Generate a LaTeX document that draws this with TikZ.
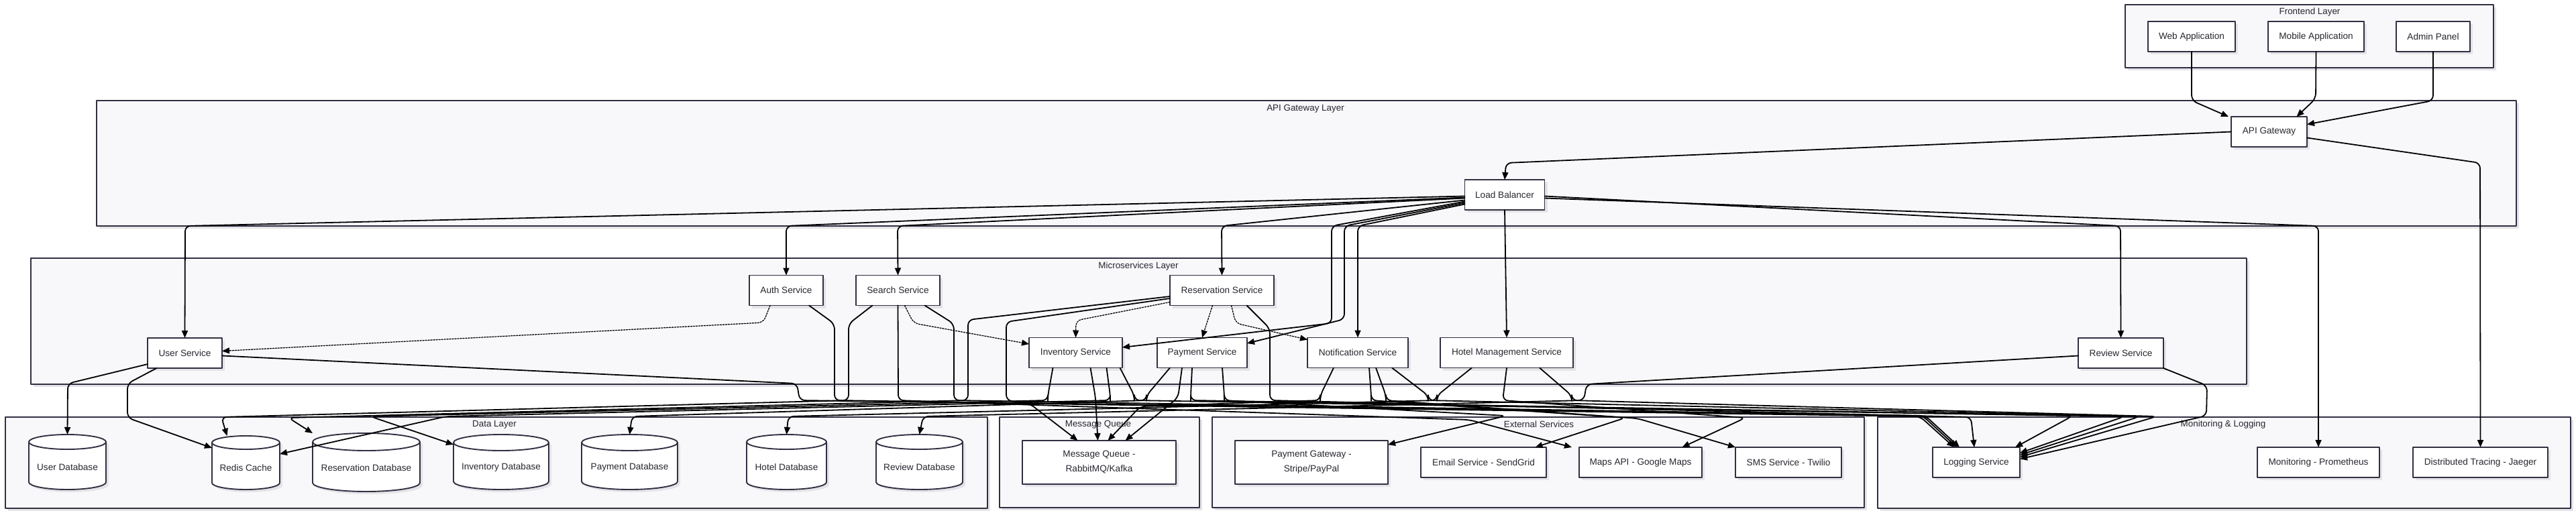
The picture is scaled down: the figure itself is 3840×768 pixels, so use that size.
\documentclass[tikz,border=0pt]{standalone}
\usepackage{fontspec}
\setmainfont{Liberation Sans}
\usetikzlibrary{arrows.meta,shadows}
\definecolor{inkline}{RGB}{48,48,66}
\definecolor{layerbg}{RGB}{248,248,251}
\definecolor{shade}{RGB}{228,228,232}
\definecolor{txt}{RGB}{38,38,46}
% a database drum: name, centre x, centre y (downwards), width, height, cap radius, text
\newcommand{\dbnode}[7]{%
  \path[dbbody] ({#2-#4/2},{-#3+#5/2-#6}) -- ({#2-#4/2},{-#3-#5/2+#6})
    arc[start angle=180,end angle=360,x radius={#4*0.5pt},y radius={#6*1pt}]
    -- ({#2+#4/2},{-#3+#5/2-#6})
    arc[start angle=0,end angle=180,x radius={#4*0.5pt},y radius={#6*1pt}] -- cycle;
  \draw[dbrim] ({#2-#4/2},{-#3+#5/2-#6})
    arc[start angle=180,end angle=360,x radius={#4*0.5pt},y radius={#6*1pt}];
  \node[dbanchor,minimum width=#4pt,minimum height=#5pt] (#1) at (#2,-#3) {};
  \node[dbtext] (#1-text) at (#2,{-#3-8}) {#7};
}
\begin{document}
\begin{tikzpicture}[x=1pt,y=1pt,line cap=round,line join=round]
  \tikzset{
    layer/.style={draw=inkline,fill=layerbg,line width=1.5pt,
      general shadow={fill=shade,shadow xshift=4pt,shadow yshift=-4pt}},
    layertitle/.style={font=\fontsize{13.4}{16}\selectfont,text=txt,inner sep=0pt},
    svc/.style={draw=inkline,fill=white,line width=1.9pt,minimum height=45pt,
      inner sep=0pt,outer sep=0pt,align=center,text=txt,
      font=\fontsize{13.6}{22}\selectfont,
      general shadow={fill=shade,shadow xshift=4pt,shadow yshift=-4pt}},
    dbbody/.style={draw=inkline,fill=white,line width=1.9pt,
      general shadow={fill=shade,shadow xshift=4pt,shadow yshift=-4pt}},
    dbrim/.style={draw=inkline,line width=1.9pt},
    dbanchor/.style={draw=none,inner sep=0pt,outer sep=0pt},
    dbtext/.style={font=\fontsize{13.6}{16}\selectfont,text=txt,inner sep=0pt},
    flow/.style={draw=black,line width=1.8pt,rounded corners=8pt,
      -{Triangle[length=11pt,width=9pt]}},
    dep/.style={flow,line width=1.3pt,dash pattern=on 2.2pt off 1.8pt}
  }
  \fill[white] (0,0) rectangle (3840,-768);
  \useasboundingbox (0,0) rectangle (3840,-768);

  % layers
  \path[layer] (3168,-7) rectangle (3717,-101);
  \path[layer] (144,-150) rectangle (3751,-337);
  \path[layer] (46,-385) rectangle (3349,-573);
  \path[layer] (8,-622) rectangle (1472,-758);
  \path[layer] (1490,-622) rectangle (1788,-757);
  \path[layer] (1807,-622) rectangle (2779,-757);
  \path[layer] (2799,-622) rectangle (3832,-758);
  \node[layertitle] (t-front) at (3443,-18) {Frontend Layer};
  \node[layertitle] (t-gate) at (1946,-162) {API Gateway Layer};
  \node[layertitle] (t-micro) at (1697,-397) {Microservices Layer};
  \node[layertitle] (t-data) at (737,-633) {Data Layer};
  \node[layertitle] (t-queue) at (1637,-633) {Message Queue};
  \node[layertitle] (t-ext) at (2294,-633) {External Services};
  \node[layertitle] (t-mon) at (3314,-633) {Monitoring \& Logging};

  % frontend and gateway
  \node[svc,minimum width=130pt] (web) at (3267,-54.5) {Web Application};
  \node[svc,minimum width=143pt] (mobile) at (3452.5,-54.5) {Mobile Application};
  \node[svc,minimum width=110pt] (admin) at (3627,-54.5) {Admin Panel};
  \node[svc,minimum width=113pt] (gateway) at (3382.5,-196.5) {API Gateway};
  \node[svc,minimum width=119pt] (lb) at (2243,-290.5) {Load Balancer};

  % microservices
  \node[svc,minimum width=110pt] (auth) at (1172,-433) {Auth Service};
  \node[svc,minimum width=125pt] (search) at (1338.5,-433) {Search Service};
  \node[svc,minimum width=155pt] (reservation) at (1821.5,-433) {Reservation Service};
  \node[svc,minimum width=111pt] (user) at (275.5,-526.5) {User Service};
  \node[svc,minimum width=139pt] (inventory) at (1603.5,-526) {Inventory Service};
  \node[svc,minimum width=134pt] (payment) at (1792,-526) {Payment Service};
  \node[svc,minimum width=150pt] (notification) at (2024,-526) {Notification Service};
  \node[svc,minimum width=198pt] (hotel) at (2246,-526) {Hotel Management Service};
  \node[svc,minimum width=127pt] (review) at (3161.5,-526.5) {Review Service};

  % data stores
  \dbnode{userdb}{100.5}{689}{115}{82}{11}{User Database}
  \dbnode{cache}{366.5}{690}{101}{80}{10}{Redis Cache}
  \dbnode{resdb}{546}{689.5}{160}{87}{13}{Reservation Database}
  \dbnode{invdb}{747}{689}{142}{82}{12}{Inventory Database}
  \dbnode{paydb}{938.5}{689}{143}{82}{12}{Payment Database}
  \dbnode{hoteldb}{1172.5}{689}{119}{82}{11}{Hotel Database}
  \dbnode{reviewdb}{1370.5}{689}{129}{82}{11}{Review Database}

  % queue, external services, monitoring
  \node[svc,minimum width=229pt,minimum height=65pt] (mq) at (1638.5,-689.5) {Message Queue -\\RabbitMQ/Kafka};
  \node[svc,minimum width=228pt,minimum height=65pt] (pgw) at (1955,-689.5) {Payment Gateway -\\Stripe/PayPal};
  \node[svc,minimum width=187pt] (email) at (2211.5,-689.5) {Email Service - SendGrid};
  \node[svc,minimum width=183pt] (maps) at (2445.5,-689.5) {Maps API - Google Maps};
  \node[svc,minimum width=158pt] (sms) at (2666,-689.5) {SMS Service - Twilio};
  \node[svc,minimum width=130pt] (logging) at (2946,-689.5) {Logging Service};
  \node[svc,minimum width=182pt] (monitoring) at (3456,-689.5) {Monitoring - Prometheus};
  \node[svc,minimum width=201pt] (tracing) at (3697.5,-689.5) {Distributed Tracing - Jaeger};

  % clients into the gateway
  \draw[flow] (web.south) -- (3267,-150) -- ([xshift=-4pt]gateway.north west);
  \draw[flow] (mobile.south) -- (3452,-147) -- ([xshift=41pt]gateway.north);
  \draw[flow] (admin.south) -- (3627,-150) -- ([yshift=11pt]gateway.east);
  \draw[flow] (gateway.west) -- (2245,-243) -- (lb.north);
  \draw[flow] ([yshift=-9pt]gateway.east) -- (3697,-243) -- (tracing.north);

  % load balancer fan-out
  \draw[flow] ([yshift=-2pt]lb.west) -- (276,-337) -- (user.north);
  \draw[flow] ([yshift=-4pt]lb.west) -- (1172,-337) -- (auth.north);
  \draw[flow] ([yshift=-5pt]lb.west) -- (1338,-337) -- (search.north);
  \draw[flow] ([yshift=-8pt]lb.west) -- (1821,-337) -- (reservation.north);
  \draw[flow] ([yshift=-10pt]lb.west) -- (1985,-337) -- (1985,-482) -- ([yshift=8pt]inventory.east);
  \draw[flow] ([yshift=-12pt]lb.west) -- (2004,-337) -- (2004,-476) -- ([yshift=14pt]payment.east);
  \draw[flow] ([yshift=-14pt]lb.west) -- (2024,-337) -- (notification.north);
  \draw[flow] (lb.south) -- (hotel.north);
  \draw[flow] ([yshift=-2pt]lb.east) -- (3161,-337) -- (review.north);
  \draw[flow] ([yshift=-5pt]lb.east) -- (3456,-337) -- (monitoring.north);

  % service to service calls
  \draw[dep] ([xshift=-24pt]auth.south) -- (1138,-481) -- ([yshift=3pt]user.east);
  \draw[dep] ([xshift=10pt]search.south) -- (1362,-482) -- ([yshift=13pt]inventory.west);
  \draw[dep] ([yshift=5pt]reservation.south west) -- (1604,-478) -- (inventory.north);
  \draw[dep] ([xshift=-14pt]reservation.south) -- (payment.north);
  \draw[dep] ([xshift=14pt]reservation.south) -- (1842,-482) -- ([yshift=-3pt]notification.north west);

  % user, auth, search
  \draw[flow] ([yshift=6pt]user.south west) -- (101,-572) -- (userdb.north);
  \draw[flow] ([xshift=-42pt]user.south) -- (190,-572) -- (190,-623) -- ([yshift=22pt]cache.west);
  \draw[flow] ([yshift=-4pt]user.east) -- (1188,-572) -- (1192,-597) -- (2862,-621) -- ([xshift=-33pt]logging.north);
  \draw[flow] ([xshift=34pt]auth.south) -- (1244,-483) -- (1244,-597) -- (2866,-620) -- ([xshift=-29pt]logging.north);
  \draw[flow] ([xshift=-38pt]search.south) -- (1265,-483) -- (1265,-597) -- (330,-622) -- ([xshift=-28pt]cache.north);
  \draw[flow] (search.south) -- (1339,-597) -- (2190,-626) -- ([xshift=-11pt]maps.north west);
  \draw[flow] ([xshift=40pt]search.south) -- (1422,-483) -- (1422,-597) -- (2870,-620) -- ([xshift=-25pt]logging.north);

  % reservation and inventory
  \draw[flow] ([yshift=-9pt]reservation.west) -- (1443,-477) -- (1443,-597) -- (430,-623) -- (resdb.north west);
  \draw[flow] ([yshift=-12pt]reservation.west) -- (1500,-480) -- (1500,-597) -- (1535,-602) -- ([xshift=-32pt]mq.north);
  \draw[flow] ([xshift=37pt]reservation.south) -- (1893,-490) -- (1893,-597) -- (2938,-622) -- ([xshift=-3pt]logging.north);
  \draw[flow] ([xshift=-34pt]inventory.south) -- (1562,-590) -- (1562,-597) -- (552,-621) -- ([yshift=-15pt]invdb.north west);
  \draw[flow] ([xshift=22pt]inventory.south) -- (1633,-593) -- ([xshift=-2pt]mq.north);
  \draw[flow] ([xshift=46pt]inventory.south) -- (1655,-590) -- (1655,-597) -- (665,-621) -- ([yshift=13pt]cache.east);
  \draw[flow] ([xshift=66pt]inventory.south) -- (1691,-590) -- (1691,-597) -- (3090,-620) -- ([xshift=58pt]logging.north);

  % payment and notification
  \draw[flow] ([xshift=-48pt]payment.south) -- (1709,-590) -- (1709,-597) -- (942,-621) -- (paydb.north);
  \draw[flow] ([xshift=-30pt]payment.south) -- (1756,-593) -- ([xshift=39pt]mq.north);
  \draw[flow] ([xshift=-15pt]payment.south) -- (1775,-590) -- (1775,-597) -- (3167,-621) -- ([yshift=14pt]logging.east);
  \draw[flow] ([xshift=30pt]payment.south) -- (1825,-590) -- (1825,-597) -- (2245,-620) -- ([yshift=-6pt]pgw.north east);
  \draw[flow] ([xshift=-36pt]notification.south) -- (1968,-590) -- (1968,-597) -- (1700,-606) -- ([xshift=13pt]mq.north);
  \draw[flow] ([xshift=17pt]notification.south) -- (2044,-590) -- (2044,-597) -- (2423,-623) -- ([xshift=77pt]email.north);
  \draw[flow] ([xshift=27pt]notification.south) -- (2066,-590) -- (2066,-597) -- (2441,-624) -- (sms.north west);
  \draw[flow] ([xshift=51pt]notification.south) -- (2129,-590) -- (2129,-597) -- (3190,-621) -- ([yshift=11pt]logging.east);

  % hotel management and review
  \draw[flow] ([xshift=-52pt]hotel.south) -- (2142,-590) -- (2142,-597) -- (1175,-621) -- (hoteldb.north);
  \draw[flow] (hotel.south) -- (2240,-597) -- (2602,-623) -- ([xshift=62pt]maps.north);
  \draw[flow] ([xshift=49pt]hotel.south) -- (2343,-590) -- (2343,-597) -- (3215,-621) -- ([yshift=8pt]logging.east);
  \draw[flow] ([yshift=-4pt]review.west) -- (2365,-573) -- (2361,-597) -- (1376,-621) -- (reviewdb.north);
  \draw[flow] (review.south east) -- (3290,-575) -- (3289,-620) -- ([yshift=5pt]logging.east);
\end{tikzpicture}
\end{document}
